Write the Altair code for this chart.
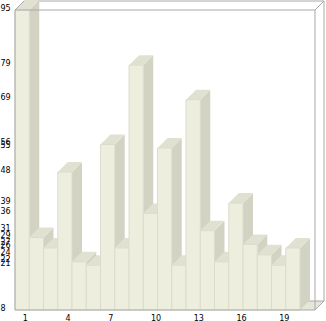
import altair as alt
import pandas as pd

bars = list(range(1, 21))
values = [95, 29, 26, 48, 22, 21, 56, 26, 79, 36, 55, 21, 69, 31, 22, 39, 27, 24, 21, 26]
y_ticks = [95, 79, 69, 56, 55, 48, 39, 36, 31, 29, 27, 26, 24, 22, 21, 8]
x_ticks = [1, 4, 7, 10, 13, 16, 19]
y_min, y_max = 8, 95

W, H = 300, 300
bar_px = 14.25
x_lo = 0.5
x_hi = x_lo + W / bar_px
ux = bar_px
uy = H / (y_max - y_min)
dx, dy = 10 / ux, 10 / uy      # bar depth in data units
fdx, fdy = 9 / ux, 9 / uy      # frame depth in data units

FRONT = "#EEEEDF"
SIDE = "#D3D3C3"
TOP = "#E1E1D2"
FLOOR = "#E6E6D9"
FRAME = "#A9A9A9"
FONT = "DejaVu Sans"

front = pd.DataFrame({
    "bar": bars,
    "x0": [b - 0.5 for b in bars],
    "x1": [b + 0.5 for b in bars],
    "v": values,
    "base": [y_min] * len(bars),
})

side_rows, top_rows = [], []
for b, v in zip(bars, values):
    side_rows.append({"bar": b, "x": b + 0.5, "t": v, "s": y_min})
    side_rows.append({"bar": b, "x": b + 0.5 + dx, "t": v + dy, "s": y_min + dy})
    top_rows.append({"bar": b, "y": v, "xa": b - 0.5, "xb": b + 0.5})
    top_rows.append({"bar": b, "y": v + dy, "xa": b - 0.5 + dx, "xb": b + 0.5 + dx})
sides = pd.DataFrame(side_rows)
tops = pd.DataFrame(top_rows)

floor = pd.DataFrame([
    {"y": y_min, "xa": x_lo, "xb": x_hi},
    {"y": y_min + fdy, "xa": x_lo + fdx, "xb": x_hi + fdx},
])

back_lines = pd.DataFrame([
    {"x": x_lo + fdx, "y": y_max + fdy, "x2": x_hi + fdx, "y2": y_max + fdy},
    {"x": x_hi + fdx, "y": y_min + fdy, "x2": x_hi + fdx, "y2": y_max + fdy},
    {"x": x_lo + fdx, "y": y_min + fdy, "x2": x_hi + fdx, "y2": y_min + fdy},
    {"x": x_lo + fdx, "y": y_min + fdy, "x2": x_lo + fdx, "y2": y_max + fdy},
])
front_lines = pd.DataFrame([
    {"x": x_lo, "y": y_min, "x2": x_lo, "y2": y_max},
    {"x": x_lo, "y": y_max, "x2": x_hi, "y2": y_max},
    {"x": x_hi, "y": y_min, "x2": x_hi, "y2": y_max},
    {"x": x_lo, "y": y_min, "x2": x_hi, "y2": y_min},
    {"x": x_lo, "y": y_max, "x2": x_lo + fdx, "y2": y_max + fdy},
    {"x": x_hi, "y": y_max, "x2": x_hi + fdx, "y2": y_max + fdy},
    {"x": x_hi, "y": y_min, "x2": x_hi + fdx, "y2": y_min + fdy},
])

xs = alt.Scale(domain=[x_lo, x_hi], nice=False, zero=False)
ys = alt.Scale(domain=[y_min, y_max], nice=False, zero=False)

x_axis = alt.Axis(values=x_ticks, title=None, domain=False, ticks=False, grid=False,
                  labelAlign="left", labelBaseline="top", labelPadding=4,
                  labelFont=FONT, labelFontSize=8, labelColor="#000000",
                  labelOverlap=False, labelFlush=False, format="d", zindex=1)
y_axis = alt.Axis(values=y_ticks, title=None, domain=False, ticks=False, grid=False,
                  labelAlign="left", labelBaseline="alphabetic", labelPadding=15,
                  labelFont=FONT, labelFontSize=8, labelColor="#000000",
                  labelOverlap=False, labelFlush=False, labelBound=False, format="d",
                  zindex=1)


def X(field):
    return alt.X(field, scale=xs, axis=x_axis, stack=None)


def Y(field):
    return alt.Y(field, scale=ys, axis=y_axis, stack=None)


floor_layer = alt.Chart(floor).mark_area(orient="horizontal", color=FLOOR).encode(
    y=Y("y:Q"), x=X("xa:Q"), x2="xb:Q",
)

back_layer = alt.Chart(back_lines).mark_rule(color=FRAME, strokeWidth=1).encode(
    x=X("x:Q"), y=Y("y:Q"), x2="x2:Q", y2="y2:Q",
)

side_layer = alt.Chart(sides).mark_area(orient="vertical", color=SIDE).encode(
    x=X("x:Q"), y=Y("t:Q"), y2="s:Q", detail="bar:N",
)

top_layer = alt.Chart(tops).mark_area(orient="horizontal", color=TOP).encode(
    y=Y("y:Q"), x=X("xa:Q"), x2="xb:Q", detail="bar:N",
)

front_layer = alt.Chart(front).mark_rect(color=FRONT, stroke="#DCDCCD", strokeWidth=1).encode(
    x=X("x0:Q"), x2="x1:Q", y=Y("base:Q"), y2="v:Q",
)

frame_layer = alt.Chart(front_lines).mark_rule(color=FRAME, strokeWidth=1).encode(
    x=X("x:Q"), y=Y("y:Q"), x2="x2:Q", y2="y2:Q",
)

chart = alt.layer(
    floor_layer, back_layer, side_layer, top_layer, front_layer, frame_layer
).properties(
    width=W, height=H,
    autosize=alt.AutoSizeParams(type="none"),
    padding={"left": 15, "top": 10, "right": 11, "bottom": 11},
    background="#FFFFFF",
).configure_view(stroke=None)

chart.save("out.html", embed_options={"renderer": "svg", "actions": False})
